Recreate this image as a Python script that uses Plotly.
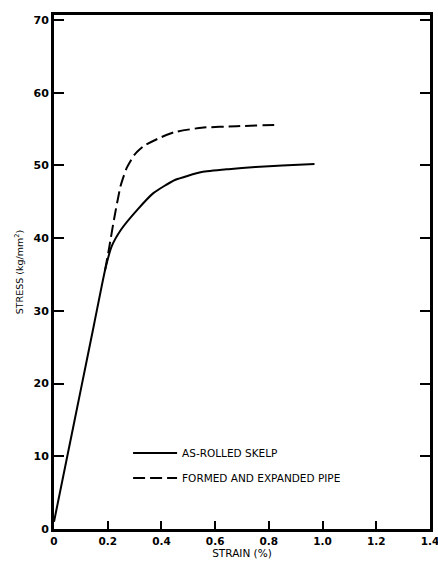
import plotly.graph_objects as go

# Data
strain_skelp = [0.0, 0.05, 0.10, 0.15, 0.19, 0.215, 0.25, 0.31, 0.37, 0.45, 0.55, 0.65, 0.75, 0.85, 0.97]
stress_skelp = [1.0, 10.1, 19.2, 28.3, 35.6, 38.9, 41.2, 43.9, 46.2, 48.0, 49.1, 49.5, 49.8, 50.0, 50.2]

strain_pipe = [0.19, 0.205, 0.223, 0.248, 0.27, 0.30, 0.335, 0.40, 0.45, 0.55, 0.68, 0.835]
stress_pipe = [35.6, 38.6, 42.5, 47.2, 49.6, 51.5, 52.7, 53.9, 54.6, 55.2, 55.4, 55.6]

x_ticks = [0, 0.2, 0.4, 0.6, 0.8, 1.0, 1.2, 1.4]
x_ticklabels = ["0", "0.2", "0.4", "0.6", "0.8", "1.0", "1.2", "1.4"]
y_ticks = [0, 10, 20, 30, 40, 50, 60, 70]

series_names = ["AS-ROLLED SKELP", "FORMED AND EXPANDED PIPE"]

FONT = "DejaVu Sans"

fig = go.Figure()
fig.add_trace(go.Scatter(
    x=strain_skelp, y=stress_skelp, mode="lines", name=series_names[0],
    legendgroup="a",
    line=dict(color="black", width=2, shape="spline", smoothing=0.5)))
fig.add_trace(go.Scatter(
    x=strain_pipe, y=stress_pipe, mode="lines", name=series_names[1],
    legendgroup="b",
    line=dict(color="black", width=2, dash="12px,5px", shape="spline", smoothing=0.5)))

fig.update_layout(
    width=438, height=563,
    margin=dict(l=54, r=8, t=15, b=34),
    paper_bgcolor="white", plot_bgcolor="white",
    font=dict(family=FONT, color="black"),
    showlegend=True,
    legend=dict(x=0.197, y=0.176, xanchor="left", yanchor="top",
                bgcolor="rgba(0,0,0,0)", font=dict(size=10.5, family=FONT),
                tracegroupgap=6, itemwidth=44),
    xaxis=dict(range=[0, 1.4], tickvals=x_ticks, ticktext=x_ticklabels,
               automargin=False, ticklabeloverflow="allow",
               ticks="inside", ticklen=8, tickwidth=2, tickcolor="black",
               showline=True, linewidth=3, linecolor="black", mirror=True,
               showgrid=False, zeroline=False,
               tickfont=dict(size=10.5, family=FONT, weight="bold"),
               title=dict(text="STRAIN (%)", font=dict(size=10.5, family=FONT), standoff=3)),
    yaxis=dict(range=[0, 70.7], tickvals=y_ticks,
               automargin=False, ticklabeloverflow="allow",
               ticks="inside", ticklen=10, tickwidth=2, tickcolor="black",
               showline=True, linewidth=3, linecolor="black", mirror="ticks",
               showgrid=False, zeroline=False,
               tickfont=dict(size=11, family=FONT, weight="bold"),
               title=dict(text="STRESS (kg/mm<sup>2</sup>)", font=dict(size=9.5, family=FONT), standoff=9)),
)

# Remove the default page margin so the figure sits at the window's origin
fig.write_html("out.html",
               config={"displayModeBar": False},
               post_script="document.body.style.margin='0px';document.body.style.overflow='hidden';")
